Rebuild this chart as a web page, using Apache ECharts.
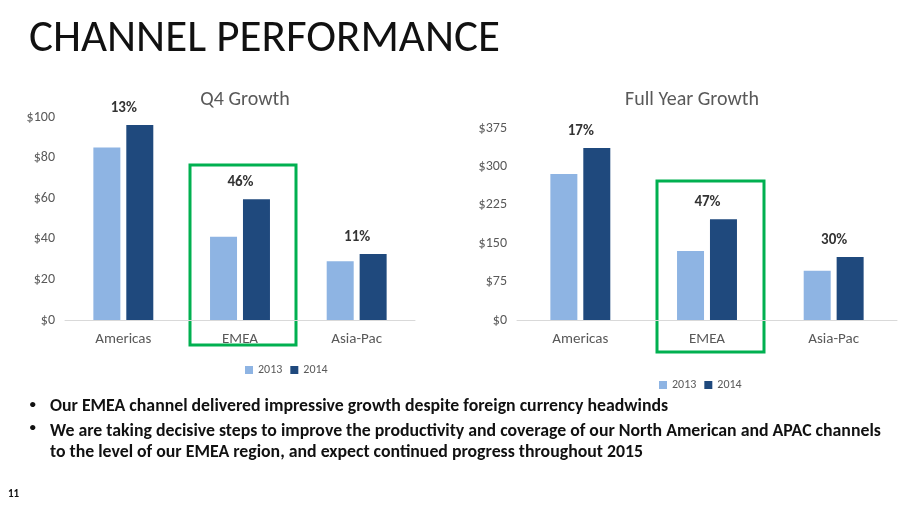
<!DOCTYPE html>
<html><head><meta charset="utf-8">
<script src="https://cdn.jsdelivr.net/npm/echarts@6/dist/echarts.min.js"></script>
<style>body{margin:0;background:#fff}#c{width:911px;height:512px}</style>
</head><body><div id="c"></div>
<script>
const categories = ['Americas', 'EMEA', 'Asia-Pac'];
const q4_2013 = [85, 41, 29];
const q4_2014 = [96, 59.5, 32.5];
const q4_growth = ['13%', '46%', '11%'];
const fy_2013 = [285, 135, 96];
const fy_2014 = [336, 197, 123];
const fy_growth = ['17%', '47%', '30%'];
const c13 = '#8EB4E3', c14 = '#1F497D', grey = '#595959';
const font = 'Calibri, Carlito, "Open Sans", sans-serif';

const chart = echarts.init(document.getElementById('c'));
function yAx(i, max, step) {
  return {gridIndex: i, min: 0, max: max, interval: step, splitLine: {show: false},
    axisLabel: {color: grey, fontSize: 14, fontFamily: font, margin: 10, formatter: '${value}'}};
}
function xAx(i) {
  return {gridIndex: i, type: 'category', data: categories, axisTick: {show: false},
    axisLine: {lineStyle: {color: '#d9d9d9'}}, axisLabel: {color: grey, fontSize: 15, fontFamily: font, margin: 12}};
}
function bars(i, d13, d14, g) {
  return [
    {type: 'bar', name: '2013', xAxisIndex: i, yAxisIndex: i, data: d13, itemStyle: {color: c13}, barWidth: 27, barGap: '22%'},
    {type: 'bar', name: '2014', xAxisIndex: i, yAxisIndex: i, data: d14, itemStyle: {color: c14}, barWidth: 27,
      label: {show: true, position: 'top', offset: [-16, -4], color: '#333', fontWeight: 'bold', fontSize: 15, fontFamily: font,
        formatter: p => g[p.dataIndex]}}
  ];
}
chart.setOption({
  animation: false,
  title: [
    {text: 'CHANNEL PERFORMANCE', left: 24, top: 12, textStyle: {fontSize: 45, fontWeight: 'normal', color: '#111', fontFamily: font}},
    {text: 'Q4 Growth', left: 240, textAlign: 'center', top: 85, textStyle: {fontSize: 20, fontWeight: 'normal', color: grey, fontFamily: font}},
    {text: 'Full Year Growth', left: 687, textAlign: 'center', top: 85, textStyle: {fontSize: 20, fontWeight: 'normal', color: grey, fontFamily: font}}
  ],
  legend: [
    {data: ['2013', '2014'], left: 240, top: 359, itemWidth: 8, itemHeight: 8, itemGap: 8, textStyle: {color: grey, fontSize: 12, fontFamily: font}, icon: 'rect'},
    {data: ['2013', '2014'], left: 654, top: 374, itemWidth: 8, itemHeight: 8, itemGap: 8, textStyle: {color: grey, fontSize: 12, fontFamily: font}, icon: 'rect'}
  ],
  grid: [
    {left: 65, width: 350, top: 117, height: 203},
    {left: 517, width: 380, top: 128, height: 192}
  ],
  xAxis: [xAx(0), xAx(1)],
  yAxis: [yAx(0, 100, 20), yAx(1, 375, 75)],
  series: [...bars(0, q4_2013, q4_2014, q4_growth), ...bars(1, fy_2013, fy_2014, fy_growth)],
  graphic: [
    {type: 'rect', shape: {x: 190, y: 165, width: 106, height: 180}, style: {fill: 'none', stroke: '#00B050', lineWidth: 3}},
    {type: 'rect', shape: {x: 657, y: 181, width: 107, height: 171}, style: {fill: 'none', stroke: '#00B050', lineWidth: 3}},
    {type: 'text', left: 29, top: 398, style: {text: '•', fill: '#111', font: '15px ' + font}},
    {type: 'text', left: 50, top: 398, style: {text: 'Our EMEA channel delivered impressive growth despite foreign currency headwinds', fill: '#111', font: 'bold 17.8px ' + font}},
    {type: 'text', left: 29, top: 421, style: {text: '•', fill: '#111', font: '15px ' + font}},
    {type: 'text', left: 50, top: 421, style: {text: 'We are taking decisive steps to improve the productivity and coverage of our North American and APAC channels\nto the level of our EMEA region, and expect continued progress throughout 2015', lineHeight: 21, fill: '#111', font: 'bold 17.8px ' + font}},
    {type: 'text', left: 8, top: 489, style: {text: '11', fill: '#111', font: 'bold 11px ' + font}}
  ]
});
</script></body></html>
